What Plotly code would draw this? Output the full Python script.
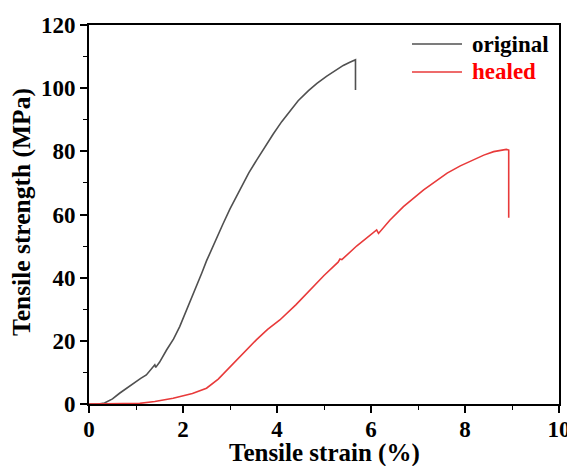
import plotly.graph_objects as go

# original sample (strain %, stress MPa)
orig_strain = [0.0, 0.2, 0.33, 0.5, 0.65, 0.8, 0.93, 1.1, 1.22, 1.36, 1.40, 1.42, 1.5, 1.65, 1.8,
               1.93, 2.07, 2.2, 2.29, 2.4, 2.50, 2.7, 2.85, 3.0, 3.21, 3.4, 3.57, 3.75, 3.92,
               4.1, 4.27, 4.45, 4.67, 4.85, 5.06, 5.25, 5.41, 5.55, 5.67, 5.67]
orig_stress = [0.0, 0.0, 0.3, 1.6, 3.4, 5.0, 6.5, 8.1, 9.2, 11.6, 12.4, 11.6, 13.2, 17.1, 20.6,
               24.5, 29.5, 33.9, 37.5, 41.5, 45.3, 52.2, 57.0, 61.8, 68.0, 73.2, 77.3, 81.6, 85.5,
               89.4, 92.8, 96.0, 99.2, 101.5, 103.8, 105.7, 107.2, 108.2, 109.0, 99.4]

# healed sample
heal_strain = [0.0, 0.5, 1.08, 1.4, 1.79, 2.2, 2.5, 2.75, 3.0, 3.3, 3.56, 3.8, 4.06, 4.4, 4.70,
               5.0, 5.30, 5.34, 5.38, 5.7, 6.12, 6.16, 6.4, 6.69, 7.12, 7.62, 7.9, 8.18, 8.4,
               8.61, 8.78, 8.88, 8.93, 8.93]
heal_stress = [0.0, 0.0, 0.2, 0.8, 1.8, 3.3, 5.0, 7.9, 11.8, 16.2, 20.3, 23.6, 26.6, 31.4, 36.1,
               40.7, 44.9, 45.9, 45.7, 50.1, 55.1, 54.0, 58.2, 62.5, 67.8, 73.1, 75.4, 77.3, 78.8,
               79.9, 80.4, 80.6, 80.4, 59.0]

series_names = ["original", "healed"]
series_colors = ["#505050", "#e83a3a"]
label_colors = ["#000000", "#ff0000"]
x_title = "Tensile strain (%)"
y_title = "Tensile strength (MPa)"

font_family = "Liberation Serif, Times New Roman, serif"

# figure is placed with the page's 8px body margin, so size compensates
W, H = 567, 458
L, R, T, B = 81, 16, 17, 62
pw, ph = W - L - R, H - T - B

fig = go.Figure()
fig.add_trace(go.Scatter(x=orig_strain, y=orig_stress, mode="lines", name=series_names[0],
                         line=dict(color=series_colors[0], width=1.6), showlegend=False))
fig.add_trace(go.Scatter(x=heal_strain, y=heal_stress, mode="lines", name=series_names[1],
                         line=dict(color=series_colors[1], width=1.6), showlegend=False))

axis_common = dict(
    showgrid=False, zeroline=False, showline=True, linecolor="black", linewidth=2,
    mirror=True, ticks="outside", ticklen=7, tickwidth=1.5, tickcolor="black",
    automargin=False,
    tickfont=dict(family=font_family, size=23, color="black", weight="bold"),
)

fig.update_xaxes(range=[0, 10], dtick=2, tick0=0, ticklabelstandoff=-4,
                 minor=dict(dtick=1, ticks="outside", ticklen=4, tickcolor="black", tickwidth=1.2),
                 **axis_common)
fig.update_yaxes(range=[0, 120], dtick=20, tick0=0,
                 minor=dict(dtick=10, ticks="outside", ticklen=4, tickcolor="black", tickwidth=1.2),
                 **axis_common)

shapes, annotations = [], []
# axis titles
annotations.append(dict(xref="paper", yref="paper", x=0.5, y=(H - B - 445) / ph,
                        xanchor="center", yanchor="middle", showarrow=False, text=x_title,
                        font=dict(family=font_family, size=25, color="black", weight="bold")))
annotations.append(dict(xref="paper", yref="paper", x=(13 - L) / pw, y=(H - B - 204) / ph,
                        xanchor="center", yanchor="middle", showarrow=False, text=y_title,
                        textangle=-90,
                        font=dict(family=font_family, size=25.5, color="black", weight="bold")))

# manual legend (lines 50px long, as in the reference)
for i, (nm, col, lcol) in enumerate(zip(series_names, series_colors, label_colors)):
    py = 36 + 28 * i
    yp = (H - B - py) / ph
    x0 = (404 - L) / pw
    x1 = (454 - L) / pw
    shapes.append(dict(type="line", xref="paper", yref="paper", x0=x0, x1=x1, y0=yp, y1=yp,
                       line=dict(color=col, width=1.6)))
    annotations.append(dict(xref="paper", yref="paper", x=(462 - L) / pw, y=yp,
                            xanchor="left", yanchor="middle", showarrow=False, text=nm,
                            font=dict(family=font_family, size=23, color=lcol, weight="bold")))

fig.update_layout(
    width=W, height=H,
    margin=dict(l=L, r=R, t=T, b=B, autoexpand=False),
    plot_bgcolor="white", paper_bgcolor="white",
    font=dict(family=font_family, color="black"),
    shapes=shapes, annotations=annotations,
    showlegend=False,
)

fig.write_html("out.html")
